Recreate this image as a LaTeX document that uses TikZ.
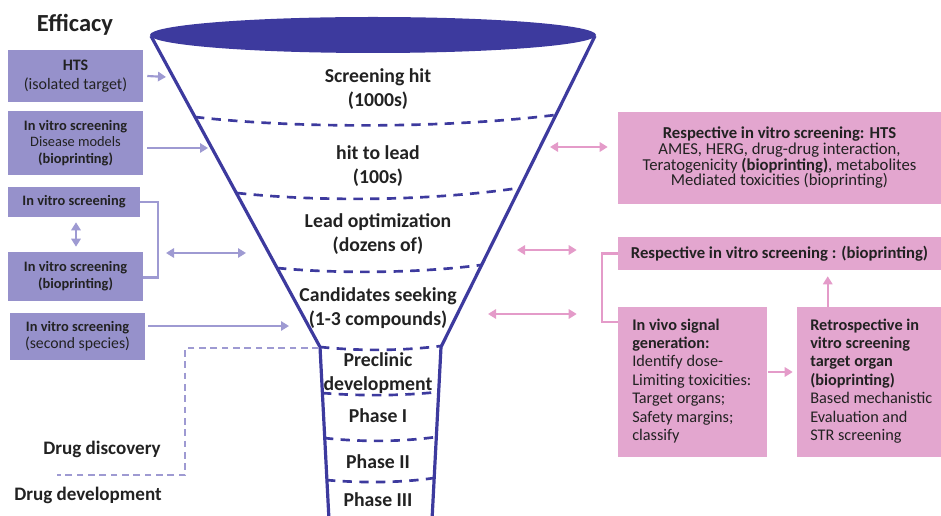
\documentclass[tikz,border=0pt]{standalone}
\usepackage{fontspec}
\setmainfont{Carlito}
\usetikzlibrary{arrows.meta,calc}
\definecolor{funnel}{HTML}{3D3A9E}
\definecolor{lav}{HTML}{9691CB}
\definecolor{lavline}{HTML}{9E9AD2}
\definecolor{pinkbox}{HTML}{E3A6CF}
\definecolor{pinkline}{HTML}{E49BC9}
\definecolor{txt}{HTML}{222222}
\begin{document}
\begin{tikzpicture}[x=0.75pt,y=-0.75pt,
  funnelline/.style={draw=funnel,line width=2.4pt,line join=round},
  stage/.style={draw=funnel,line width=2pt,dash pattern=on 7pt off 5.5pt},
  ftext/.style={font=\fontsize{14.8}{18}\selectfont\bfseries,align=center,text=txt,inner sep=0pt},
  lbox/.style={fill=lav,inner sep=0pt,align=center,text=txt,font=\fontsize{10.8}{12.5}\selectfont},
  rbox/.style={fill=pinkbox,inner sep=0pt,align=center,text=txt,font=\fontsize{12.5}{11.4}\selectfont},
  pxbox/.style 2 args={minimum width=#1*0.75pt,minimum height=#2*0.75pt},
  larrow/.style={draw=lavline,line width=1.6pt,-{Triangle[length=6pt,width=7pt]}},
  ldarrow/.style={draw=lavline,line width=1.6pt,{Triangle[length=6pt,width=7pt]}-{Triangle[length=6pt,width=7pt]}},
  lline/.style={draw=lavline,line width=1.6pt},
  ldash/.style={draw=lavline,line width=1.6pt,dash pattern=on 5pt off 3.5pt},
  pdarrow/.style={draw=pinkline,line width=1.6pt,{Triangle[length=6pt,width=7pt]}-{Triangle[length=6pt,width=7pt]}},
  parrow/.style={draw=pinkline,line width=1.6pt,-{Triangle[length=6pt,width=7pt]}},
  pline/.style={draw=pinkline,line width=1.6pt},
  label/.style={font=\fontsize{14.3}{16}\selectfont\bfseries,text=txt,inner sep=0pt},
  ttext/.style={fill=none,align=left,anchor=west,text=txt,inner sep=0pt,font=\fontsize{12.2}{13.8}\selectfont}
]
\useasboundingbox (0,0) rectangle (941,516);

% funnel
\fill[funnel] (373,35) ellipse [x radius=167.25pt, y radius=13.5pt];
\draw[funnelline] (151,36) -- (320,347) -- (329,520);
\draw[funnelline] (595,36) -- (441,347) -- (432,520);
\draw[stage] (195,117) .. controls (300,129) and (450,128) .. (555,115);
\draw[stage] (237,193) .. controls (320,202) and (430,201) .. (519,188);
\draw[stage] (277,268) .. controls (340,274) and (420,273) .. (481,265);
\draw[stage] (320,347) .. controls (360,351) and (400,351) .. (441,346);
\draw[stage] (322,393) .. controls (360,396) and (400,396) .. (438,392);
\draw[stage] (324,438) .. controls (360,442) and (400,442) .. (436,437);
\draw[stage] (326,480) .. controls (360,483) and (400,483) .. (434,478);

\node[ftext] (s1) at (378,89) {Screening hit\\(1000s)};
\node[ftext] (s2) at (378,166) {hit to lead\\(100s)};
\node[ftext] (s3) at (378,234) {Lead optimization\\(dozens of)};
\node[ftext] (s4) at (378,308) {Candidates seeking\\(1-3 compounds)};
\node[ftext] (s5) at (378,373) {Preclinic\\development};
\node[ftext] (s6) at (378,416) {Phase I};
\node[ftext] (s7) at (378,462) {Phase II};
\node[ftext] (s8) at (378,500) {Phase III};

% labels
\node[label,font=\fontsize{18.4}{20}\selectfont\bfseries] (eff) at (75,25) {Efficacy};
\node[label] (dd) at (102,449) {Drug discovery};
\node[label] (dv) at (88,495) {Drug development};

% left boxes
\node[lbox,pxbox={135}{52},font=\fontsize{12}{14.2}\selectfont] (b1) at (75.5,76) {\textbf{HTS}\\(isolated target)};
\node[lbox,pxbox={135}{64}] (b2) at (75.5,143) {\textbf{In vitro screening}\\Disease models\\\textbf{(bioprinting)}};
\node[lbox,pxbox={132}{30}] (b3) at (74,202) {\textbf{In vitro screening}};
\node[lbox,pxbox={135}{49}] (b4) at (75.5,276.5) {\textbf{In vitro screening}\\\textbf{(bioprinting)}};
\node[lbox,pxbox={135}{47}] (b5) at (77.5,336.5) {\textbf{In vitro screening}\\{\fontsize{11.8}{12.5}\selectfont(second species)}};

\coordinate (f1) at (166,77);
\coordinate (f2) at (208,148);
\coordinate (f3a) at (166,253);
\coordinate (f3b) at (246,253);
\coordinate (f5) at (289,326);
\coordinate (neck) at (319,348);

\draw[larrow] ([xshift=3pt]b1.east) -- (f1);
\draw[larrow] ($(b2.east)+(4,5)$) -- (f2);
\draw[ldarrow] ($(b3.south)+(2,5)$) -- ($(b4.north)+(0.5,-5)$);
\draw[lline] (b3.east) -- ++(18,0) |- ($(b4.east)+(0,1)$);
\draw[ldarrow] (f3a) -- (f3b);
\draw[larrow] ($(b5.east)+(3,-10.5)$) -- (f5);
\draw[ldash] (neck) -- (185,348) -- (185,475) -- (57,475);

% right boxes
\node[rbox,pxbox={323}{92}] (r1) at (779.5,158) {\textbf{Respective in vitro screening: HTS}\\AMES, HERG, drug-drug interaction,\\Teratogenicity \textbf{(bioprinting)}, metabolites\\Mediated toxicities (bioprinting)};
\node[rbox,pxbox={323}{33}] (r2) at (779.5,253.5) {\textbf{Respective in vitro screening : (bioprinting)}};
\node[rbox,pxbox={149}{150}] (r3) at (692.5,382) {};
\node[rbox,pxbox={145}{150}] (r4) at (869.5,382) {};
\node[ttext] (r3t) at (632,381) {\textbf{In vivo signal}\\\textbf{generation:}\\Identify dose-\\Limiting toxicities:\\Target organs;\\Safety margins;\\classify};
\node[ttext] (r4t) at (810,381) {\textbf{Retrospective in}\\\textbf{vitro screening}\\\textbf{target organ}\\\textbf{(bioprinting)}\\Based mechanistic\\Evaluation and\\STR screening};

\coordinate (p1) at (550,147);
\coordinate (p2) at (517,250);
\coordinate (p3) at (488,314);
\draw[pdarrow] (p1) -- ($(r1.west)+(-10,-11)$);
\draw[pdarrow] (p2) -- ($(r2.west)+(-41,-3.5)$);
\draw[pdarrow] (p3) -- ($(r3.west)+(-41,-68)$);
\draw[pline] (r2.west) -- ++(-16,0) |- ($(r3.north west)+(0,15)$);
\draw[parrow] ($(r3.east)+(1,-10)$) -- ($(r4.west)+(-4,-10)$);
\draw[parrow] ($(r4.north west)+(31,0)$) -- ($(r2.south west)+(210,6)$);
\end{tikzpicture}
\end{document}
